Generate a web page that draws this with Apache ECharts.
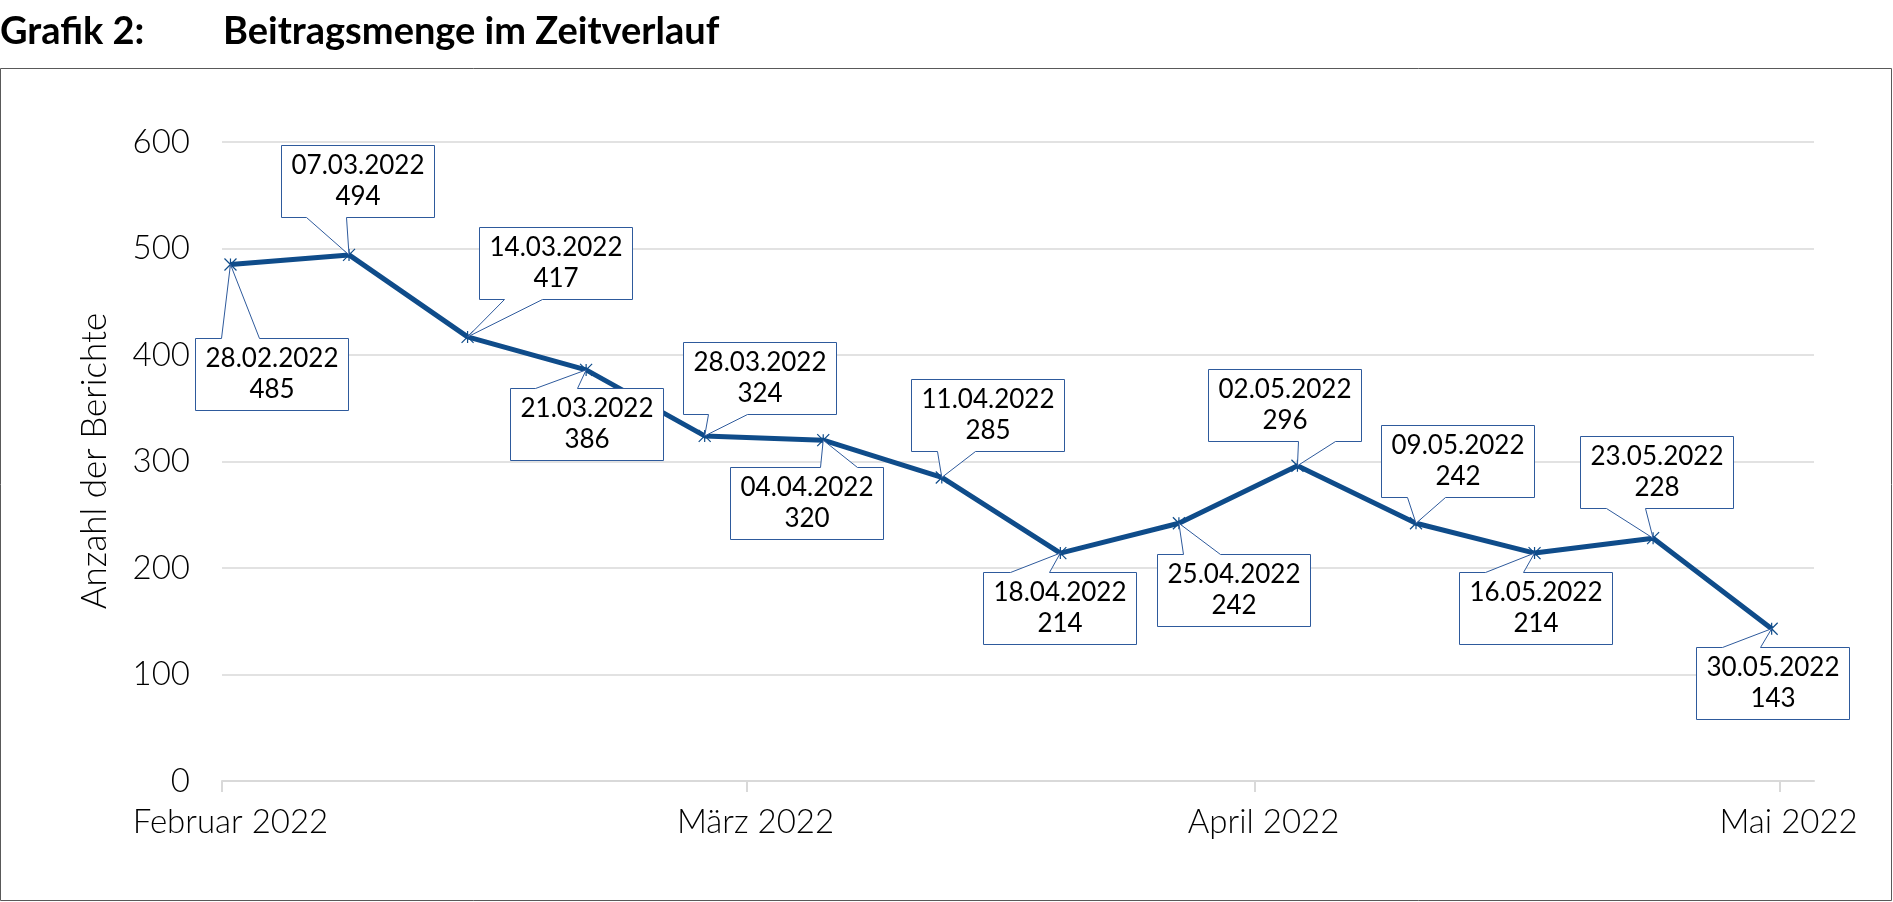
<!DOCTYPE html>
<html>
<head>
<meta charset="utf-8">
<script src="https://cdn.jsdelivr.net/npm/echarts@6/dist/echarts.min.js"></script>
<style>
html,body{margin:0;padding:0;background:#fff;}
#chart{width:1893px;height:902px;}
</style>
</head>
<body>
<div id="chart"></div>
<script>
// ---- data ----
const dates = ['28.02.2022','07.03.2022','14.03.2022','21.03.2022','28.03.2022','04.04.2022','11.04.2022',
               '18.04.2022','25.04.2022','02.05.2022','09.05.2022','16.05.2022','23.05.2022','30.05.2022'];
const values = [485, 494, 417, 386, 324, 320, 285, 214, 242, 296, 242, 214, 228, 143];
const tickLabels = ['Februar 2022', 'März 2022', 'April 2022', 'Mai 2022'];
const tickLabelDays = [0, 31, 61, 92];   // days after 28.02.2022
const yTicks = [0, 100, 200, 300, 400, 500, 600];

// ---- callout layout (positions relative to the point) ----
const boxes = [
  {dx:-35,  dy:74,   side:'top',    a:26, b:64},
  {dx:-68,  dy:-110, side:'bottom', a:25, b:65},
  {dx:11,   dy:-110, side:'bottom', a:25, b:63},
  {dx:-76,  dy:18,   side:'top',    a:25, b:67},
  {dx:-22,  dy:-94,  side:'bottom', a:25, b:64},
  {dx:-93,  dy:27,   side:'top',    a:90, b:127},
  {dx:-31,  dy:-98,  side:'bottom', a:26, b:64},
  {dx:-77,  dy:19,   side:'top',    a:27, b:66},
  {dx:-22,  dy:31,   side:'top',    a:26, b:63},
  {dx:-89,  dy:-97,  side:'bottom', a:90, b:127},
  {dx:-35,  dy:-98,  side:'bottom', a:26, b:64},
  {dx:-76,  dy:19,   side:'top',    a:26, b:64},
  {dx:-73,  dy:-102, side:'bottom', a:26, b:65},
  {dx:-76,  dy:18,   side:'top',    a:26, b:64}
];

function dayOf(s){
  const [d,m,y] = s.split('.').map(Number);
  return Date.UTC(y, m-1, d);
}
const t0 = dayOf(dates[0]);
const days = dates.map(s => Math.round((dayOf(s) - t0) / 86400000));
const seriesData = days.map((d, i) => [d, values[i]]);

const LINE = '#0f4c8a';
const BOX = '#2e5a9c';
const GRID = '#d9d9d9';

const chart = echarts.init(document.getElementById('chart'), null, {renderer:'canvas'});
chart.setOption({
  animation: false,
  backgroundColor: '#fff',
  grid: {left: 222, right: 79, top: 142, bottom: 121, containLabel: false},
  graphic: [
    {type:'rect', shape:{x:0.5, y:68.5, width:1891, height:832}, style:{fill:'none', stroke:'#595959', lineWidth:1}, z:-1},
    {type:'text', x:0, y:32, style:{text:'Grafik 2:', font:'bold 38px Lato', fill:'#000', verticalAlign:'middle'}},
    {type:'text', x:223, y:32, style:{text:'Beitragsmenge im Zeitverlauf', font:'bold 38px Lato', fill:'#000', verticalAlign:'middle'}},
    {type:'text', x:95, y:461, rotation:Math.PI/2,
      style:{text:'Anzahl der Berichte', font:'300 35px Lato', fill:'#000', align:'center', verticalAlign:'middle'}}
  ],
  xAxis: {
    type: 'value', min: -0.5, max: 93.5,
    splitLine: {show:false},
    axisLine: {show:true, lineStyle:{color:GRID, width:2}},
    axisTick: {show:true, length:11, customValues: tickLabelDays.map(d => d - 0.5), lineStyle:{color:GRID, width:2}},
    axisLabel: {
      customValues: tickLabelDays,
      margin: 25,
      color: '#000', fontFamily: 'Lato', fontWeight: 300, fontSize: 33,
      formatter: v => tickLabels[tickLabelDays.indexOf(v)] || ''
    }
  },
  yAxis: {
    type: 'value', min: yTicks[0], max: yTicks[yTicks.length-1], interval: 100,
    axisLine: {show:false}, axisTick: {show:false},
    splitLine: {show:true, lineStyle:{color:GRID, width:1.5}},
    axisLabel: {margin: 32, color:'#000', fontFamily:'Lato', fontWeight:300, fontSize:33}
  },
  series: [
    {
      type: 'line',
      data: seriesData,
      z: 2,
      lineStyle: {color: LINE, width: 5},
      symbol: 'path://M0 0L10 10M10 0L0 10M5 0L5 10',
      symbolSize: 12,
      itemStyle: {color: 'rgba(0,0,0,0)', borderColor: LINE, borderWidth: 1.2},
      label: {show:false}
    },
    {
      type: 'custom',
      data: seriesData,
      z: 5,
      clip: false,
      renderItem: function(params, api){
        const i = params.dataIndex;
        const p = api.coord([api.value(0), api.value(1)]);
        const L = boxes[i];
        const w = 153, h = 72;
        const x0 = Math.round(p[0] + L.dx) + 0.5, y0 = Math.round(p[1] + L.dy) + 0.5;
        let pts;
        if (L.side === 'top') {
          pts = [[x0,y0],[x0+L.a,y0],[p[0],p[1]],[x0+L.b,y0],[x0+w,y0],[x0+w,y0+h],[x0,y0+h]];
        } else {
          pts = [[x0,y0],[x0+w,y0],[x0+w,y0+h],[x0+L.b,y0+h],[p[0],p[1]],[x0+L.a,y0+h],[x0,y0+h]];
        }
        return {
          type: 'group',
          children: [
            {type:'polygon', shape:{points:pts}, style:{fill:'#fff', stroke:BOX, lineWidth:1}},
            {type:'text', style:{text: dates[i] + '\n' + values[i], x: x0 + w/2, y: y0 + h/2,
              align:'center', verticalAlign:'middle', font:'26px Lato', lineHeight:31, fill:'#000'}}
          ]
        };
      }
    }
  ]
});
</script>
</body>
</html>
